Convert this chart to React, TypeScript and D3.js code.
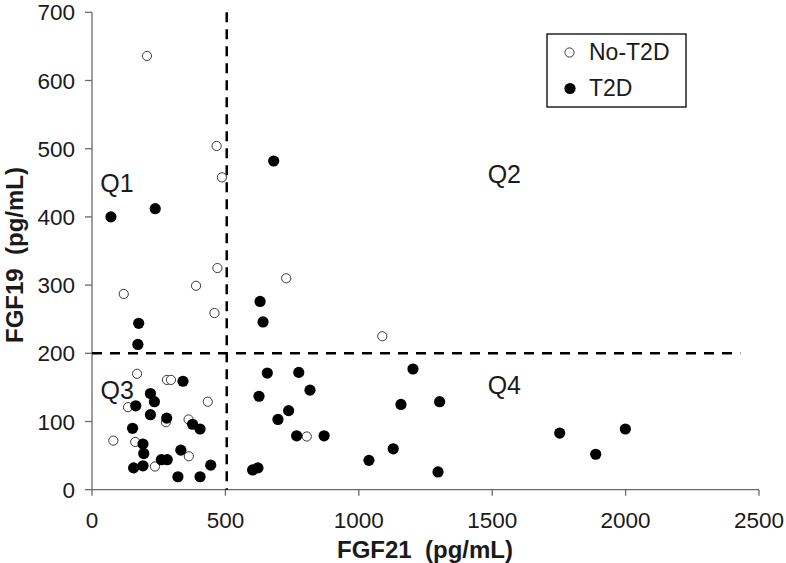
import React from "react";
import * as d3 from "d3";

const noT2dX = [206, 467, 487, 119, 390, 470, 459, 728, 1088, 169, 281, 296, 434, 135, 277, 362, 80, 162, 363, 236, 805];
const noT2dY = [636, 504, 458, 287, 299, 325, 259, 310, 225, 170, 161, 161, 129, 121, 99, 103, 72, 70, 49, 34, 78];

const t2dX = [681, 71, 237, 630, 641, 175, 172, 341, 219, 234, 164, 219, 280, 377, 405, 152, 191, 194, 333, 260, 282, 191, 156, 445, 322, 405, 657, 775, 626, 817, 737, 697, 767, 602, 622, 870, 1203, 1158, 1303, 1129, 1038, 1297, 1753, 1888, 1999];
const t2dY = [482, 400, 412, 276, 246, 244, 213, 159, 141, 129, 123, 110, 105, 96, 89, 90, 67, 53, 58, 44, 44, 35, 32, 36, 19, 19, 171, 172, 137, 146, 116, 103, 79, 29, 32, 79, 177, 125, 129, 60, 43, 26, 83, 52, 89];

const xTicks = [0, 500, 1000, 1500, 2000, 2500];
const yTicks = [0, 100, 200, 300, 400, 500, 600, 700];
const seriesNames = ["No-T2D", "T2D"];
const quadrants = [
  { label: "Q1", x: 31, y: 437 },
  { label: "Q2", x: 1483, y: 450 },
  { label: "Q3", x: 32, y: 133 },
  { label: "Q4", x: 1483, y: 140 },
];
const cutX = 505;
const cutY = 200;
const hLineEnd = 2430;

const FONT = "'Liberation Sans', Arial, sans-serif";

export default function App() {
  const x = d3.scaleLinear().domain([0, 2500]).range([92, 759]);
  const y = d3.scaleLinear().domain([0, 700]).range([489.7, 12.3]);
  const axisColor = "#6a6a6a";
  const textColor = "#1a1a1a";

  return (
    <svg width={786} height={563} style={{ position: "absolute", left: 0, top: 0, background: "#fff" }} fontFamily={FONT}>
      <rect width={786} height={563} fill="#fff" />
      {/* axes */}
      <line x1={x(0)} x2={x(0)} y1={y(0)} y2={y(700)} stroke={axisColor} strokeWidth={1.3} />
      <line x1={x(0)} x2={x(2500)} y1={y(0)} y2={y(0)} stroke={axisColor} strokeWidth={1.3} />
      {yTicks.map((t) => (
        <g key={"yt" + t}>
          <line x1={x(0) - 7} x2={x(0)} y1={y(t)} y2={y(t)} stroke={axisColor} strokeWidth={1.3} />
          <text x={x(0) - 17} y={y(t) + 8} textAnchor="end" fontSize={22.5} fill={textColor}>{t}</text>
        </g>
      ))}
      {xTicks.map((t) => (
        <g key={"xt" + t}>
          <line x1={x(t)} x2={x(t)} y1={y(0)} y2={y(0) + 6} stroke={axisColor} strokeWidth={1.3} />
          <text x={x(t)} y={528} textAnchor="middle" fontSize={22.5} fill={textColor}>{t}</text>
        </g>
      ))}
      <text x={425} y={558} textAnchor="middle" fontSize={24} fontWeight="bold" fill={textColor} xmlSpace="preserve">FGF21  (pg/mL)</text>
      <text transform={`translate(23,255) rotate(-90)`} textAnchor="middle" fontSize={24} fontWeight="bold" fill={textColor} xmlSpace="preserve">FGF19  (pg/mL)</text>

      {/* cut lines */}
      <line x1={x(cutX)} x2={x(cutX)} y1={y(700)} y2={y(0)} stroke="#000" strokeWidth={2.5} strokeDasharray="10,7" />
      <line x1={x(0)} x2={x(hLineEnd)} y1={y(cutY)} y2={y(cutY)} stroke="#000" strokeWidth={2.5} strokeDasharray="10,8" />

      {quadrants.map((q) => (
        <text key={q.label} x={x(q.x)} y={y(q.y)} fontSize={25} fill={textColor}>{q.label}</text>
      ))}

      {/* points */}
      {noT2dX.map((v, i) => (
        <circle key={"n" + i} cx={x(v)} cy={y(noT2dY[i])} r={4.6} fill="#fff" stroke="#3a3a3a" strokeWidth={1} />
      ))}
      {t2dX.map((v, i) => (
        <circle key={"t" + i} cx={x(v)} cy={y(t2dY[i])} r={5.6} fill="#000" />
      ))}

      {/* legend */}
      <rect x={547} y={34} width={139} height={73} fill="#fff" stroke="#000" strokeWidth={1.3} />
      <circle cx={569.5} cy={52.5} r={4.6} fill="#fff" stroke="#3a3a3a" strokeWidth={1} />
      <text x={589} y={60} fontSize={23} fill={textColor}>{seriesNames[0]}</text>
      <circle cx={570} cy={88.5} r={5.6} fill="#000" />
      <text x={589} y={96} fontSize={23} fill={textColor}>{seriesNames[1]}</text>
    </svg>
  );
}
